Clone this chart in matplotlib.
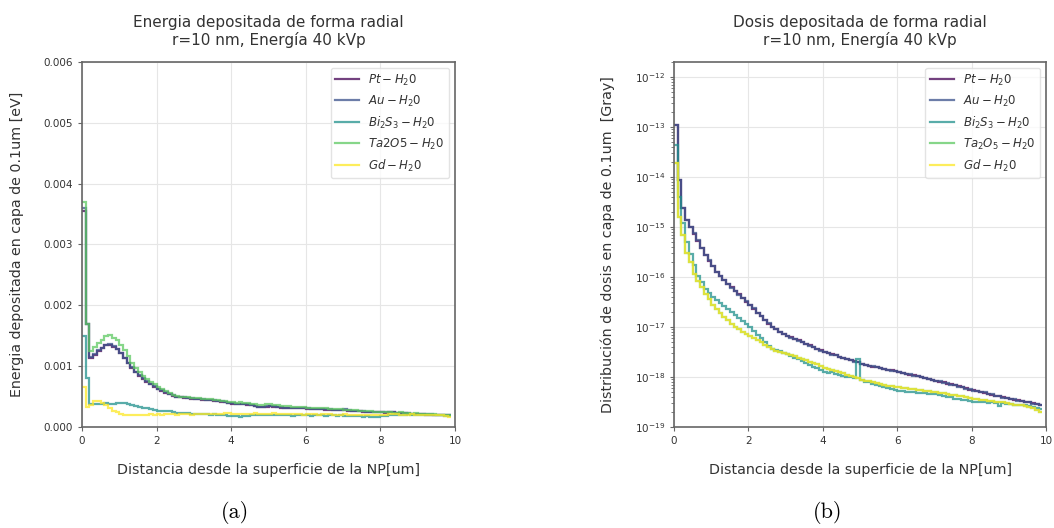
import matplotlib
matplotlib.use("Agg")
import matplotlib.pyplot as plt
import numpy as np

# radial bins of 0.1 um, 0 -> 9.9 um
bin_edges_um = np.linspace(0, 9.9, 100)

labels_energy = [r"$Pt-H_20$", r"$Au-H_20$", r"$Bi_2S_3-H_20$", r"$Ta2O5-H_20$", r"$Gd-H_20$"]
labels_dose = [r"$Pt-H_20$", r"$Au-H_20$", r"$Bi_2S_3-H_20$", r"$Ta_2O_5-H_20$", r"$Gd-H_20$"]
colors = ["#440154", "#3b528b", "#21918c", "#5ec962", "#fde725"]

# (a) energy per layer, units of 1e-4 eV
pt_energy = [
    35.5, 17.0, 11.4, 11.9, 12.5, 13.0, 13.4, 13.5, 13.2, 12.8,
    12.1, 11.3, 10.5, 9.7, 9.0, 8.4, 7.9, 7.4, 7.0, 6.6,
    6.2, 5.9, 5.6, 5.35, 5.15, 4.95, 4.85, 4.8, 4.75, 4.65,
    4.6, 4.55, 4.5, 4.45, 4.4, 4.35, 4.25, 4.15, 4.05, 3.95,
    3.85, 3.8, 3.75, 3.7, 3.65, 3.55, 3.45, 3.3, 3.25, 3.35,
    3.45, 3.35, 3.3, 3.2, 3.15, 3.1, 3.15, 3.1, 3.05, 3.05,
    3.0, 2.95, 2.95, 2.9, 2.9, 2.85, 2.85, 2.8, 2.8, 2.75,
    2.85, 2.7, 2.65, 2.6, 2.55, 2.5, 2.45, 2.45, 2.4, 2.45,
    2.4, 2.35, 2.45, 2.4, 2.3, 2.25, 2.25, 2.2, 2.15, 2.1,
    2.15, 2.1, 2.05, 2.05, 2.0, 2.0, 1.95, 1.95, 1.9,
]
au_energy = [
    36.0, 17.0, 11.5, 12.0, 12.6, 13.0, 13.5, 13.6, 13.3, 12.9,
    12.2, 11.4, 10.6, 9.8, 9.1, 8.5, 8.0, 7.5, 7.1, 6.7,
    6.3, 6.0, 5.7, 5.4, 5.2, 5.0, 4.9, 4.85, 4.8, 4.7,
    4.65, 4.6, 4.55, 4.5, 4.45, 4.4, 4.3, 4.2, 4.1, 4.0,
    3.9, 3.85, 3.8, 3.75, 3.7, 3.6, 3.5, 3.3, 3.25, 3.4,
    3.5, 3.4, 3.3, 3.25, 3.2, 3.15, 3.2, 3.15, 3.1, 3.1,
    3.05, 3.0, 3.0, 2.95, 2.95, 2.9, 2.9, 2.85, 2.85, 2.8,
    2.9, 2.75, 2.7, 2.65, 2.6, 2.55, 2.5, 2.5, 2.45, 2.5,
    2.45, 2.4, 2.5, 2.45, 2.35, 2.3, 2.3, 2.25, 2.2, 2.15,
    2.2, 2.15, 2.1, 2.1, 2.05, 2.05, 2.0, 2.0, 1.95,
]
bi2s3_energy = [
    15.0, 8.0, 3.8, 3.7, 3.8, 3.85, 3.9, 3.85, 3.8, 3.9,
    4.0, 3.9, 3.75, 3.6, 3.45, 3.3, 3.2, 3.05, 2.9, 2.8,
    2.7, 2.6, 2.55, 2.6, 2.45, 2.35, 2.3, 2.3, 2.25, 2.2,
    2.2, 2.15, 2.2, 2.1, 2.05, 2.1, 2.0, 1.95, 1.9, 1.85,
    1.75, 1.8, 1.7, 1.85, 1.8, 1.9, 1.95, 2.0, 1.95, 2.05,
    2.0, 1.95, 2.0, 1.9, 1.95, 1.9, 1.85, 1.9, 1.95, 1.9,
    1.9, 1.85, 1.9, 1.95, 1.9, 1.85, 1.9, 1.9, 1.85, 1.9,
    1.85, 1.8, 1.75, 1.8, 1.75, 1.7, 1.75, 1.7, 1.65, 1.7,
    1.75, 1.85, 1.9, 1.95, 2.0, 2.05, 2.0, 2.1, 2.05, 2.0,
    2.0, 1.95, 2.0, 1.95, 1.9, 1.95, 1.9, 1.85, 1.8,
]
ta2o5_energy = [
    37.0, 17.0, 12.5, 13.2, 13.8, 14.3, 14.9, 15.1, 14.7, 14.3,
    13.5, 12.6, 11.6, 10.6, 9.7, 9.0, 8.4, 7.9, 7.4, 7.0,
    6.6, 6.2, 5.9, 5.6, 5.3, 5.1, 5.0, 4.95, 4.9, 4.8,
    4.75, 4.7, 4.65, 4.6, 4.55, 4.5, 4.4, 4.3, 4.2, 4.15,
    4.1, 4.0, 4.1, 3.95, 3.9, 3.8, 3.75, 3.65, 3.6, 3.7,
    3.75, 3.65, 3.6, 3.5, 3.45, 3.4, 3.35, 3.3, 3.3, 3.25,
    3.2, 3.2, 3.15, 3.1, 3.1, 3.05, 3.0, 3.0, 2.95, 2.9,
    2.85, 2.8, 2.8, 2.75, 2.7, 2.65, 2.6, 2.55, 2.5, 2.45,
    2.5, 2.45, 2.4, 2.35, 2.3, 2.4, 2.3, 2.25, 2.2, 2.25,
    2.2, 2.15, 2.2, 2.1, 2.1, 2.05, 2.05, 2.0, 2.0,
]
gd_energy = [
    6.5, 3.3, 3.6, 4.2, 4.3, 4.0, 3.6, 3.1, 2.7, 2.4,
    2.2, 2.05, 2.0, 1.95, 2.0, 2.05, 2.0, 2.05, 2.1, 2.05,
    2.1, 2.05, 2.1, 2.15, 2.1, 2.05, 2.1, 2.15, 2.1, 2.05,
    2.1, 2.15, 2.2, 2.1, 2.15, 2.2, 2.15, 2.2, 2.3, 2.25,
    2.2, 2.15, 2.2, 2.1, 2.15, 2.2, 2.25, 2.2, 2.15, 2.1,
    2.2, 2.25, 2.2, 2.15, 2.2, 2.1, 2.15, 2.2, 2.1, 2.05,
    2.1, 2.15, 2.1, 2.05, 2.1, 2.15, 2.1, 2.05, 2.0, 2.05,
    2.1, 2.05, 2.0, 2.05, 2.0, 1.95, 2.0, 2.05, 2.0, 1.95,
    2.0, 2.05, 2.1, 2.15, 2.1, 2.05, 2.0, 2.05, 2.1, 2.05,
    2.0, 2.05, 2.0, 1.95, 2.0, 1.95, 1.9, 1.85, 1.7,
]

# (b) dose per layer, units of 1e-18 Gy
pt_dose = [
    108000, 8600, 2400, 1400, 990, 740, 535, 375, 280, 212,
    163, 128, 104, 87, 72, 62, 52, 45, 38, 32,
    27, 23, 19.5, 16.6, 14.1, 11.7, 10.2, 9.1, 8.1, 7.2,
    6.6, 6.2, 5.75, 5.4, 5.0, 4.6, 4.3, 3.9, 3.6, 3.4,
    3.2, 3.0, 2.85, 2.7, 2.55, 2.4, 2.28, 2.15, 2.05, 1.95,
    1.82, 1.75, 1.68, 1.62, 1.56, 1.5, 1.45, 1.4, 1.35, 1.3,
    1.26, 1.21, 1.16, 1.12, 1.08, 1.04, 1.0, 0.96, 0.92, 0.88,
    0.85, 0.81, 0.78, 0.74, 0.71, 0.68, 0.65, 0.62, 0.59, 0.56,
    0.54, 0.52, 0.5, 0.48, 0.46, 0.44, 0.425, 0.41, 0.39, 0.375,
    0.36, 0.35, 0.34, 0.33, 0.32, 0.31, 0.3, 0.29, 0.28,
]
au_dose = [
    110000, 8700, 2400, 1400, 1000, 750, 540, 380, 280, 215,
    165, 126, 105, 86, 73, 61, 53, 44, 38.5, 32.5,
    27, 23.5, 19.5, 16.8, 14.0, 11.8, 10.1, 9.2, 8.0, 7.3,
    6.6, 6.1, 5.8, 5.3, 5.0, 4.65, 4.25, 3.95, 3.6, 3.35,
    3.2, 3.05, 2.8, 2.7, 2.5, 2.42, 2.25, 2.17, 2.02, 1.97,
    1.8, 1.76, 1.66, 1.63, 1.55, 1.51, 1.44, 1.41, 1.34, 1.31,
    1.25, 1.22, 1.15, 1.13, 1.07, 1.05, 0.99, 0.97, 0.91, 0.89,
    0.84, 0.82, 0.77, 0.75, 0.7, 0.69, 0.64, 0.63, 0.58, 0.57,
    0.53, 0.53, 0.49, 0.49, 0.45, 0.45, 0.42, 0.415, 0.385, 0.38,
    0.355, 0.355, 0.335, 0.335, 0.315, 0.31, 0.295, 0.29, 0.275,
]
bi2s3_dose = [
    44000, 4000, 1200, 500, 290, 170, 105, 78, 58, 48,
    39, 34, 30, 26, 23, 20, 17.5, 15, 13, 11.3,
    9.8, 8.3, 7.0, 5.9, 5.0, 4.2, 3.6, 3.4, 3.3, 3.0,
    2.85, 2.6, 2.45, 2.25, 2.1, 1.9, 1.75, 1.6, 1.5, 1.35,
    1.25, 1.2, 1.25, 1.15, 1.1, 1.05, 1.0, 0.98, 0.95, 2.3,
    0.88, 0.8, 0.78, 0.72, 0.7, 0.66, 0.64, 0.6, 0.58, 0.56,
    0.53, 0.52, 0.5, 0.51, 0.49, 0.48, 0.47, 0.47, 0.46, 0.45,
    0.45, 0.43, 0.42, 0.4, 0.39, 0.37, 0.36, 0.35, 0.34, 0.33,
    0.32, 0.31, 0.32, 0.31, 0.3, 0.31, 0.3, 0.26, 0.3, 0.29,
    0.29, 0.28, 0.28, 0.27, 0.27, 0.26, 0.25, 0.24, 0.23,
]
ta2o5_dose = [
    19000, 1600, 700, 300, 200, 115, 85, 62, 46, 36,
    28, 23, 19, 16, 13.5, 11.5, 10, 9.0, 8.0, 7.3,
    6.5, 6.0, 5.4, 4.9, 4.4, 4.0, 3.6, 3.3, 3.2, 3.0,
    2.9, 2.75, 2.6, 2.45, 2.3, 2.15, 2.0, 1.9, 1.8, 1.65,
    1.5, 1.45, 1.4, 1.3, 1.25, 1.2, 1.12, 1.05, 1.0, 0.95,
    0.88, 0.85, 0.82, 0.78, 0.75, 0.72, 0.7, 0.67, 0.66, 0.64,
    0.63, 0.61, 0.6, 0.58, 0.57, 0.56, 0.55, 0.53, 0.52, 0.51,
    0.5, 0.48, 0.47, 0.46, 0.44, 0.43, 0.42, 0.41, 0.39, 0.38,
    0.36, 0.36, 0.35, 0.34, 0.33, 0.33, 0.32, 0.31, 0.31, 0.3,
    0.29, 0.28, 0.28, 0.27, 0.26, 0.25, 0.24, 0.22, 0.2,
]
gd_dose = [
    19000, 1600, 700, 300, 200, 115, 85, 62, 46, 36,
    28, 23, 19, 16, 13.5, 11.5, 10, 9.0, 8.0, 7.3,
    6.5, 6.0, 5.4, 4.9, 4.4, 4.0, 3.6, 3.3, 3.2, 3.0,
    2.9, 2.75, 2.6, 2.45, 2.3, 2.15, 2.0, 1.9, 1.8, 1.65,
    1.5, 1.45, 1.4, 1.3, 1.25, 1.2, 1.12, 1.05, 1.0, 0.95,
    0.88, 0.85, 0.82, 0.78, 0.75, 0.72, 0.7, 0.67, 0.66, 0.64,
    0.63, 0.61, 0.6, 0.58, 0.57, 0.56, 0.55, 0.53, 0.52, 0.51,
    0.5, 0.48, 0.47, 0.46, 0.44, 0.43, 0.42, 0.41, 0.39, 0.38,
    0.36, 0.36, 0.35, 0.34, 0.33, 0.33, 0.32, 0.31, 0.31, 0.3,
    0.29, 0.28, 0.28, 0.27, 0.26, 0.25, 0.24, 0.22, 0.2,
]

energy_series = [pt_energy, au_energy, bi2s3_energy, ta2o5_energy, gd_energy]
dose_series = [pt_dose, au_dose, bi2s3_dose, ta2o5_dose, gd_dose]

SPINE = "#666666"
TEXT = "#333333"


def style_axes(ax):
    for s in ax.spines.values():
        s.set_color(SPINE)
        s.set_linewidth(1.2)
    ax.grid(True, color="#e6e6e6", linewidth=0.8)
    ax.set_axisbelow(True)
    ax.tick_params(labelsize=7.5, colors=SPINE, labelcolor=TEXT, length=3)
    ax.set_xlim(0, 10)
    ax.set_xticks(np.arange(0, 11, 2))
    ax.set_xlabel("Distancia desde la superficie de la NP[um]", fontsize=10.3,
                  color=TEXT, labelpad=12)


fig = plt.figure(figsize=(10.54, 5.28), dpi=100)
ax1 = fig.add_axes([0.0778, 0.1913, 0.3539, 0.6913])
ax2 = fig.add_axes([0.6395, 0.1913, 0.3530, 0.6913])

for vals, c, lab in zip(energy_series, colors, labels_energy):
    ax1.stairs(np.array(vals) * 1e-4, bin_edges_um, baseline=None, color=c,
               linewidth=1.6, alpha=0.75, label=lab)
style_axes(ax1)
ax1.set_ylim(0, 0.006)
ax1.set_yticks(np.arange(0, 0.0061, 0.001))
ax1.set_ylabel("Energia depositada en capa de 0.1um [eV]", fontsize=10.3,
               color=TEXT, labelpad=14)
ax1.set_title("Energia depositada de forma radial\nr=10 nm, Energía 40 kVp",
              fontsize=11, color=TEXT, pad=12, linespacing=1.15)
ax1.legend(loc="upper right", fontsize=8.5, handlelength=2.0,
           edgecolor="#dddddd", labelcolor=TEXT)

for vals, c, lab in zip(dose_series, colors, labels_dose):
    ax2.stairs(np.array(vals) * 1e-18, bin_edges_um, baseline=None, color=c,
               linewidth=1.6, alpha=0.75, label=lab)
style_axes(ax2)
ax2.set_yscale("log")
ax2.set_ylim(1e-19, 2e-12)
ax2.tick_params(axis="y", which="minor", length=2, colors=SPINE)
ax2.set_ylabel("Distribución de dosis en capa de 0.1um  [Gray]", fontsize=10.3,
               color=TEXT, labelpad=14)
ax2.set_title("Dosis depositada de forma radial\nr=10 nm, Energía 40 kVp",
              fontsize=11, color=TEXT, pad=12, linespacing=1.15)
ax2.legend(loc="upper right", fontsize=8.5, handlelength=2.0,
           edgecolor="#dddddd", labelcolor=TEXT)

fig.text(0.223, 0.03, "(a)", fontsize=16, family="cmr10", ha="center", va="center")
fig.text(0.785, 0.03, "(b)", fontsize=16, family="cmr10", ha="center", va="center")

fig.savefig("out.png", dpi=100)
